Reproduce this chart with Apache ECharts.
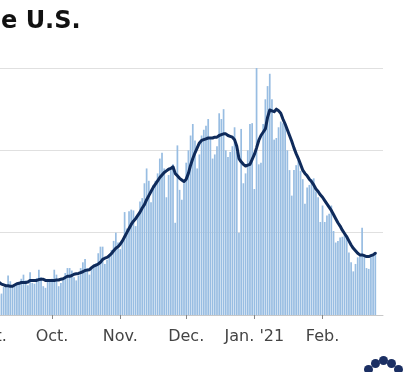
<!DOCTYPE html>
<html>
<head>
<meta charset="utf-8">
<script src="https://cdn.jsdelivr.net/npm/echarts@6/dist/echarts.min.js"></script>
<style>
html,body{margin:0;padding:0;background:#fff;}
#chart{width:404px;height:372px;}
</style>
</head>
<body>
<div id="chart"></div>
<script>
// Month tick labels
const monthLabels = ['Sept.', 'Oct.', 'Nov.', 'Dec.', "Jan. '21", 'Feb.'];
const monthDays = [30, 31, 30, 31, 31, 28];

// Daily new cases (thousands)
const casesSep = [41,39,44,50,42,31,24,26,34,36,48,41,34,35,39,39,44,49,42,36,52,39,38,45,55,46,35,33,41,40];
const casesOct = [44,55,49,35,39,43,51,57,57,54,46,42,48,57,64,68,57,49,58,61,63,75,83,83,62,67,74,79,90,100,88];
const casesNov = [80,90,125,105,126,128,127,108,120,138,142,160,178,163,137,158,163,172,190,197,178,143,170,176,183,112,206,152,140,160];
const casesDec = [185,200,218,232,212,178,195,218,225,230,238,215,190,195,205,245,238,250,200,192,198,205,228,198,100,226,160,172,200,232,233];
const casesJan = [153,300,183,185,232,262,278,293,262,213,215,228,235,233,230,200,176,145,176,182,190,175,165,135,155,158,165,166,150,143,113];
const casesFeb = [133,113,121,123,133,102,88,90,94,95,100,97,76,64,53,62,70,72,106,71,57,56,70,72,74];

// 7-day average (thousands)
const avgSep = [39,39,39.5,40,40,40,39.5,37.5,36.5,35.5,35.5,35,35,36.5,38,38.5,39.5,39.5,39.5,40,42,42,42,42,43,43.5,43.5,42,42,42];
const avgOct = [42,42,42.5,42.5,43.5,44,45.5,47,47,48,49.5,50,50.5,51.5,52.5,54,54.5,55,57.5,59.5,60.5,62,64,67.5,69,70,72,74.5,78,81,83];
const avgNov = [86,90,95,100,105,110,114,117,121,125,130,134,140,145,150,155,159,163,167,170,173,175,177,178,180,172,169,166,164,162];
const avgDec = [165,172,182,190,197,203,209,212,213,214,215,215,215,216,216,218,219,220,220,218,217,216,213,205,190,186,183,181,182,183,189];
const avgJan = [195,203,212,218,222,226,240,249,248,247,250,248,245,238,232,225,218,211,203,196,190,183,176,172,169,165,162,158,153,150,146];
const avgFeb = [143,139,135,131,127,122,117,112,108,103,99,95,90,85,81,78,75,73,73,72,71,71,72,73,75];

// y-axis grid values (cases)
const yTicks = [0, 100000, 200000, 300000];

// Build categories (month index + day) and series
const categories = [];
monthDays.forEach((n, m) => { for (let d = 1; d <= n; d++) categories.push(m + '-' + d); });
const allCases = [].concat(casesSep, casesOct, casesNov, casesDec, casesJan, casesFeb).map(v => v * 1000);
const allAvg = [].concat(avgSep, avgOct, avgNov, avgDec, avgJan, avgFeb).map(v => v * 1000);
while (allCases.length < categories.length) allCases.push(null);
while (allAvg.length < categories.length) allAvg.push(null);

const isMonthStart = (idx, val) => String(val).split('-')[1] === '1';

const chart = echarts.init(document.getElementById('chart'), null, {renderer: 'canvas'});
chart.setOption({
  animation: false,
  backgroundColor: '#fff',
  title: {
    text: 'e U.S.',
    left: -4,
    top: 5,
    textStyle: {fontFamily: 'DejaVu Sans', fontSize: 24, fontWeight: 'bold', color: '#111'}
  },
  grid: {left: -15, right: 21, top: 68, bottom: 57, containLabel: false, outerBoundsMode: 'none'},
  xAxis: {
    type: 'category',
    data: categories,
    boundaryGap: true,
    axisLine: {show: true, lineStyle: {color: '#c8c8c8', width: 1}},
    axisTick: {show: true, interval: isMonthStart, alignWithLabel: true, length: 4, lineStyle: {color: '#888'}},
    axisLabel: {
      interval: isMonthStart,
      margin: 14,
      fontFamily: 'DejaVu Sans',
      fontSize: 16,
      color: '#444',
      formatter: v => monthLabels[+String(v).split('-')[0]]
    },
    splitLine: {show: false}
  },
  yAxis: {
    type: 'value',
    min: yTicks[0],
    max: yTicks[yTicks.length - 1],
    interval: yTicks[1] - yTicks[0],
    axisLabel: {show: false},
    axisLine: {show: false},
    axisTick: {show: false},
    splitLine: {show: true, lineStyle: {color: '#e0e0e0', width: 1}}
  },
  series: [
    {
      type: 'bar',
      data: allCases,
      barCategoryGap: '22%',
      itemStyle: {color: '#98bde2'},
      z: 2
    },
    {
      type: 'line',
      data: allAvg,
      symbol: 'none',
      smooth: false,
      connectNulls: false,
      lineStyle: {color: '#0f2b5b', width: 3, join: 'round', cap: 'round'},
      z: 3
    }
  ],
  graphic: [
    {type: 'group', left: 364, top: 356, children: [
      {type: 'circle', shape: {cx: 6, cy: 14, r: 4.5}, style: {fill: '#1b2f63'}},
      {type: 'circle', shape: {cx: 13, cy: 8, r: 4.5}, style: {fill: '#1b2f63'}},
      {type: 'circle', shape: {cx: 21, cy: 5, r: 4.5}, style: {fill: '#1b2f63'}},
      {type: 'circle', shape: {cx: 29, cy: 8, r: 4.5}, style: {fill: '#1b2f63'}},
      {type: 'circle', shape: {cx: 36, cy: 14, r: 4.5}, style: {fill: '#1b2f63'}}
    ]}
  ]
});
</script>
</body>
</html>
